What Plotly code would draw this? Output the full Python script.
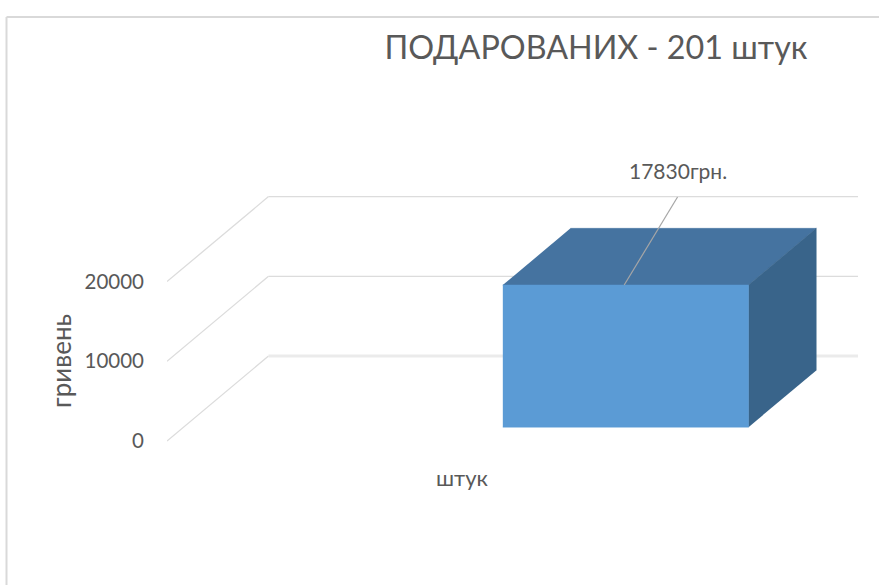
import plotly.graph_objects as go

# дані діаграми
categories = ["", "штук"]
values = [None, 17830]
y_ticks = [0, 10000, 20000]
title_text = "ПОДАРОВАНИХ - 201 штук"
label_text = "17830грн."
y_title = "гривень"
x_title = "штук"

# косокутна проекція Excel 3D: глибина 0..1 зсуває точку вправо і вгору
DEPTH_X = 0.3444
DEPTH_Y = 10665
BAR_WIDTH = 0.8336
BAR_D0 = 0.163
BAR_D1 = 0.83

FONT = "Lato, Carlito, Calibri, sans-serif"
PLOT_L, PLOT_R, PLOT_T, PLOT_B = 167, 879, 137, 585
SLOT_PX = 294.75
UNIT_PX = 79.7 / 10000
ZERO_PY = 441


def project(x, v, d):
    return x + d * DEPTH_X, v + d * DEPTH_Y


def poly(points):
    xs, ys = zip(*[project(*p) for p in points])
    return list(xs), list(ys)


def paper_x(px):
    return (px - PLOT_L) / (PLOT_R - PLOT_L)


def paper_y(py):
    return (PLOT_B - py) / (PLOT_B - PLOT_T)


fig = go.Figure()

# лінії сітки: ліва стінка і задня стінка (нульова на задній стінці товща і світліша)
for tick in y_ticks:
    wall_x, wall_y = poly([(0, tick, 0), (0, tick, 1)])
    back_x, back_y = poly([(0, tick, 1), (len(categories), tick, 1)])
    fig.add_trace(go.Scatter(
        x=wall_x, y=wall_y, mode="lines",
        line=dict(color="#dcdcdc", width=1.3), hoverinfo="skip"
    ))
    fig.add_trace(go.Scatter(
        x=back_x, y=back_y, mode="lines",
        line=dict(color="#ebebeb" if tick == 0 else "#dcdcdc", width=3 if tick == 0 else 1.3),
        hoverinfo="skip"
    ))

# стовпчик: верхня, бокова та передня грані
pos = 1.5
value = values[1]
left = pos - BAR_WIDTH / 2
right = pos + BAR_WIDTH / 2

faces = [
    ([(left, value, BAR_D0), (right, value, BAR_D0), (right, value, BAR_D1), (left, value, BAR_D1)], "#4573A0"),
    ([(right, 0, BAR_D0), (right, value, BAR_D0), (right, value, BAR_D1), (right, 0, BAR_D1)], "#39648A"),
    ([(left, 0, BAR_D0), (right, 0, BAR_D0), (right, value, BAR_D0), (left, value, BAR_D0)], "#5B9BD5"),
]
for pts, color in faces:
    xs, ys = poly(pts)
    fig.add_trace(go.Scatter(
        x=xs, y=ys, mode="lines", fill="toself", fillcolor=color,
        line=dict(color=color, width=0.5), hoverinfo="skip"
    ))

# виносна лінія до підпису
fx, fy = project(pos - 0.005, value, BAR_D0)
lx, ly = fx + 0.181, fy + 11040
fig.add_trace(go.Scatter(
    x=[fx, lx], y=[fy, ly], mode="lines",
    line=dict(color="#a6a6a6", width=1.2), hoverinfo="skip"
))
fig.add_annotation(
    x=lx, y=ly, text=label_text, showarrow=False, yanchor="bottom", yshift=12,
    font=dict(family=FONT, size=21, color="#595959")
)

# підпис осі X стоїть по центру підлоги, а не області побудови
fig.add_annotation(
    xref="paper", yref="paper", x=paper_x(462), y=paper_y(477), text=x_title, showarrow=False,
    xanchor="center", yanchor="middle",
    font=dict(family=FONT, size=22, color="#595959")
)

# рамка області діаграми (низу і правого краю немає)
frame = dict(type="line", xref="paper", yref="paper", line=dict(color="#d9d9d9", width=2))
fig.add_shape(x0=paper_x(6.5), x1=paper_x(6.5), y0=paper_y(17), y1=paper_y(585), **frame)
fig.add_shape(x0=paper_x(6.5), x1=paper_x(879), y0=paper_y(17), y1=paper_y(17), **frame)

fig.update_layout(
    width=879,
    height=585,
    autosize=False,
    showlegend=False,
    paper_bgcolor="white",
    plot_bgcolor="rgba(0,0,0,0)",
    hovermode=False,
    margin=dict(l=PLOT_L, r=879 - PLOT_R, t=PLOT_T, b=585 - PLOT_B, pad=0),
    title=dict(
        text=title_text, x=596 / 879, xanchor="center", y=1 - 48 / 585, yanchor="middle",
        font=dict(family=FONT, size=32.3, color="#595959")
    ),
    xaxis=dict(
        range=[0, (PLOT_R - PLOT_L) / SLOT_PX], showgrid=False, zeroline=False, showline=False,
        showticklabels=False, ticks=""
    ),
    yaxis=dict(
        range=[(ZERO_PY - PLOT_B) / UNIT_PX, (ZERO_PY - PLOT_T) / UNIT_PX],
        tickmode="array", tickvals=y_ticks, ticktext=[str(t) for t in y_ticks],
        showgrid=False, zeroline=False, showline=False,
        ticks="", ticklabelstandoff=22, tickfont=dict(family=FONT, size=20.5, color="#595959"),
        title=dict(text=y_title, standoff=5, font=dict(family=FONT, size=26, color="#595959"))
    ),
)

fig.write_html("out.html", config=dict(displayModeBar=False), post_script="document.body.style.margin='0';")
